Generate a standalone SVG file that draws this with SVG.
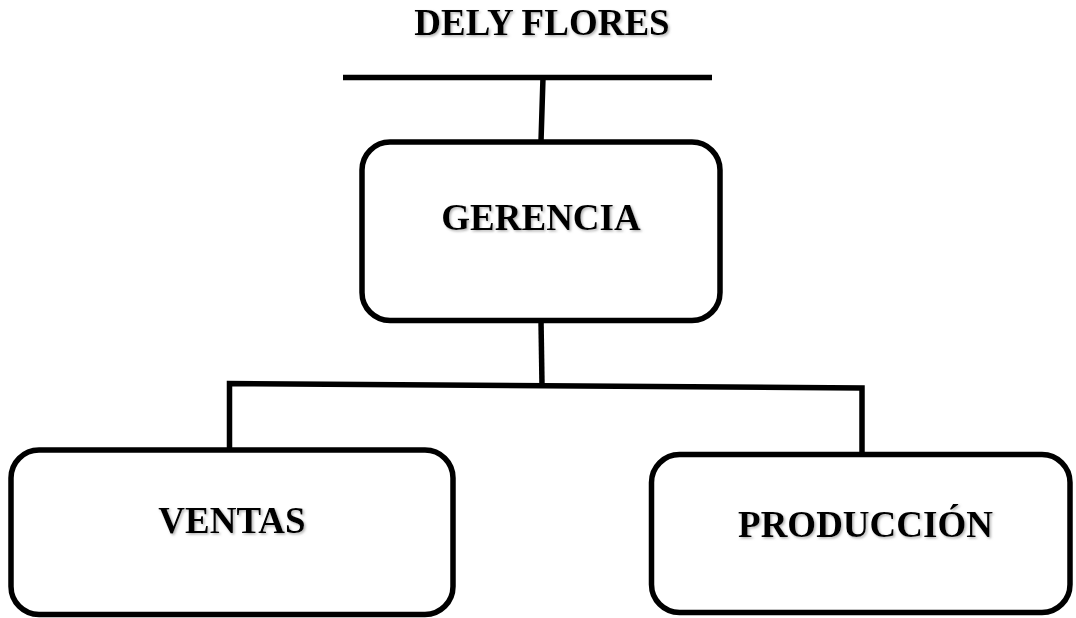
<svg xmlns="http://www.w3.org/2000/svg" width="1076" height="618" viewBox="0 0 1076 618">
<style>
.box{fill:#fff;stroke:#000;stroke-width:5.5}
.ln{fill:none;stroke:#000;stroke-width:5.5;stroke-linecap:butt}
.t{font-family:"Liberation Serif","Times New Roman",serif;font-weight:bold;font-size:37px;fill:#000;text-anchor:middle;filter:url(#sh)}
</style>
<defs>
<filter id="sh" x="-10%" y="-30%" width="120%" height="160%">
<feDropShadow dx="1.5" dy="1.5" stdDeviation="1.3" flood-color="#808080" flood-opacity="0.6"/>
</filter>
</defs>
<rect width="1076" height="618" fill="#fff"/>
<g id="connectors">
<line class="ln" x1="343" y1="77.5" x2="712" y2="77.5"/>
<line class="ln" x1="543" y1="77.5" x2="541" y2="142"/>
<line class="ln" x1="541" y1="320" x2="542" y2="385"/>
<path class="ln" d="M229.5 450 L229.5 383.5 L862 388 L862 454.5"/>
</g>
<g id="title">
<text class="t" x="542" y="35">DELY FLORES</text>
</g>
<g id="gerencia">
<rect class="box" x="362" y="142" width="358" height="178.5" rx="28"/>
<text class="t" x="541" y="230">GERENCIA</text>
</g>
<g id="ventas">
<rect class="box" x="11" y="450" width="442" height="164.5" rx="28"/>
<text class="t" x="232" y="533">VENTAS</text>
</g>
<g id="produccion">
<rect class="box" x="651.5" y="454.5" width="418.5" height="158" rx="28"/>
<text class="t" x="865.5" y="537">PRODUCCIÓN</text>
</g>
</svg>
